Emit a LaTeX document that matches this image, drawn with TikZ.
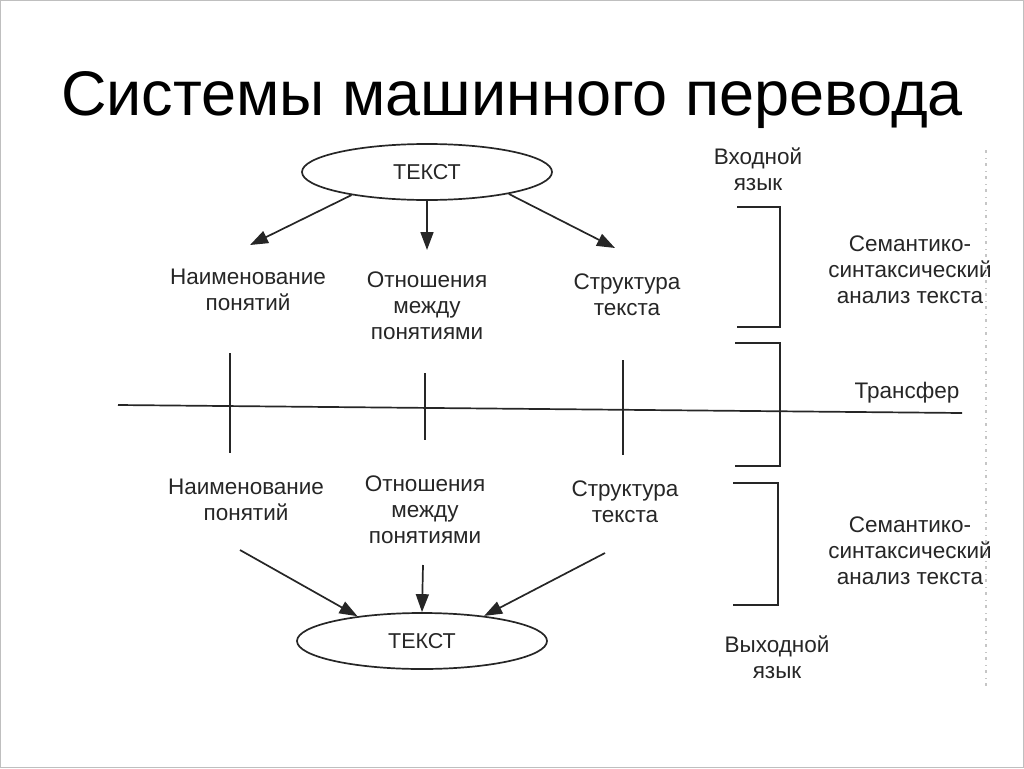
\documentclass[tikz,border=0pt]{standalone}
\usepackage{fontspec}
\setmainfont{Liberation Sans}
\usepackage{tikz}
\usetikzlibrary{arrows.meta,shapes.geometric}

\begin{document}
\begin{tikzpicture}[x=1pt,y=-1pt,
    txt/.style={align=center,inner sep=0pt,text=black!85,font=\fontsize{22.5}{26}\selectfont},
    oval/.style={ellipse,draw=black!85,line width=1.7pt,minimum width=250pt,minimum height=56pt,
      inner sep=0pt,text=black!85,font=\fontsize{21.5}{26}\selectfont},
    arr/.style={draw=black!85,line width=1.7pt,-{Triangle[length=18pt,width=13pt]}},
    ln/.style={draw=black!85,line width=1.7pt}]
  \useasboundingbox (0,0) rectangle (1024,768);
  \draw[gray!50,line width=1pt] (0.5,0.5) rectangle (1023.5,767.5);
  \node[font=\fontsize{63}{70}\selectfont](title) at (512,100){Системы машинного перевода};

  % input / output texts
  \node[oval](top) at (427,172){ТЕКСТ};
  \node[oval](bot) at (422,641){ТЕКСТ};

  % upper row
  \node[txt](naim1) at (248,290){Наименование\\понятий};
  \node[txt](otn1) at (427,306){Отношения\\между\\понятиями};
  \node[txt](str1) at (627,295){Структура\\текста};
  % lower row
  \node[txt](naim2) at (246,500){Наименование\\понятий};
  \node[txt](otn2) at (425,510){Отношения\\между\\понятиями};
  \node[txt](str2) at (625,502){Структура\\текста};

  % right column
  \node[txt](vhod) at (758,169){Входной\\язык};
  \node[txt](sem1) at (910,270){Семантико-\\синтаксический\\анализ текста};
  \node[txt](trans) at (907,393){Трансфер};
  \node[txt](sem2) at (910,551){Семантико-\\синтаксический\\анализ текста};
  \node[txt](vyhod) at (777,657){Выходной\\язык};

  % arrow ends
  \coordinate (a1) at (250,245);
  \coordinate (a2) at (427,250);
  \coordinate (a3) at (615,248);
  \coordinate (b1) at (240,550);
  \coordinate (b2) at (423,565);
  \coordinate (b3) at (605,553);

  \draw[arr] (top.197) -- (a1);
  \draw[arr] (top.south) -- (a2);
  \draw[arr] (top.345) -- (a3);
  \draw[arr] (b1) -- (bot.159);
  \draw[arr] (b2) -- (bot.north);
  \draw[arr] (b3) -- (bot.22);

  % transfer line and ticks
  \draw[ln] (118,405) -- (962,413);
  \draw[ln] (230,353) -- (230,453);
  \draw[ln] (425,373) -- (425,440);
  \draw[ln] (623,360) -- (623,455);

  % brackets
  \draw[ln] (737,207) -- (780,207) -- (780,327) -- (737,327);
  \draw[ln] (735,343) -- (780,343) -- (780,466) -- (735,466);
  \draw[ln] (733,483) -- (778,483) -- (778,605) -- (733,605);

  % scanned page edge
  \draw[gray!45,line width=1.5pt,dash pattern=on 3pt off 5pt on 1pt off 4pt] (986,150) -- (986,690);
\end{tikzpicture}
\end{document}
